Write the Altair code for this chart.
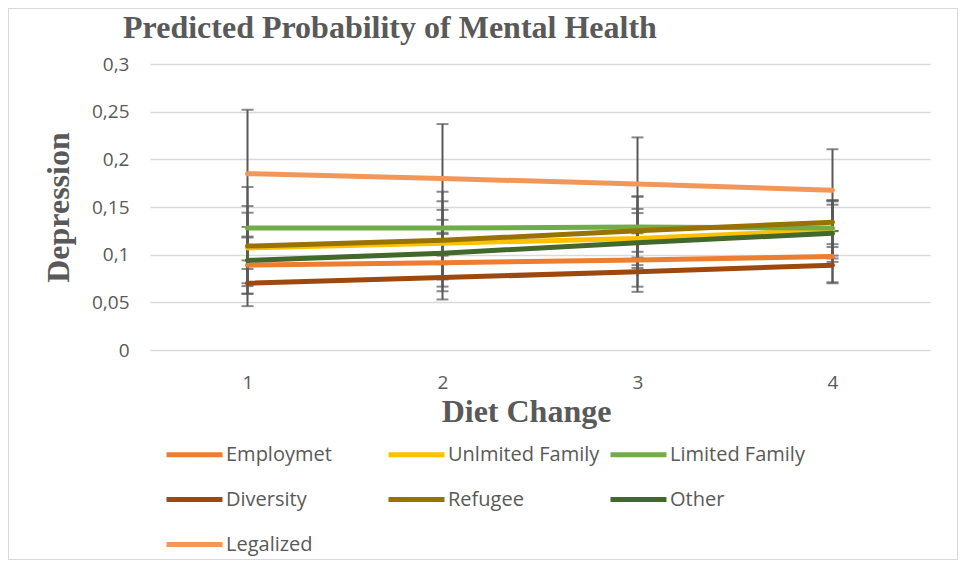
import altair as alt
import pandas as pd

# ---- data ----
diet_change = [1, 2, 3, 4]
series_names = ["Employmet", "Unlmited Family", "Limited Family", "Diversity",
                "Refugee", "Other", "Legalized"]
series_colors = ["#ED7D31", "#FFC000", "#70AD47", "#9E480E",
                 "#997300", "#43682B", "#F1975A"]

employmet = [0.089, 0.0916, 0.0944, 0.098]
unlimited_family = [0.107, 0.112, 0.117, 0.126]
limited_family = [0.128, 0.128, 0.129, 0.128]
diversity = [0.070, 0.076, 0.082, 0.089]
refugee = [0.109, 0.115, 0.125, 0.134]
other = [0.094, 0.1015, 0.1126, 0.1224]
legalized = [0.185, 0.180, 0.174, 0.1676]

err_employmet = [0.030, 0.030, 0.028, 0.027]
err_unlimited_family = [0.037, 0.035, 0.031, 0.030]
err_limited_family = [0.043, 0.038, 0.032, 0.029]
err_diversity = [0.024, 0.023, 0.021, 0.019]
err_refugee = [0.042, 0.041, 0.036, 0.023]
err_other = [0.035, 0.035, 0.031, 0.030]
err_legalized = [0.067, 0.057, 0.049, 0.043]

y_ticks = [0, 0.05, 0.1, 0.15, 0.2, 0.25, 0.3]

values = [employmet, unlimited_family, limited_family, diversity, refugee, other, legalized]
errors = [err_employmet, err_unlimited_family, err_limited_family, err_diversity,
          err_refugee, err_other, err_legalized]

rows = []
for name, vals, errs in zip(series_names, values, errors):
    for x, v, e in zip(diet_change, vals, errs):
        rows.append({"series": name, "x": x, "y": v, "lo": v - e, "hi": v + e})
df = pd.DataFrame(rows)

GRAY = "#595959"
SERIF = "Liberation Serif"
SANS = "Open Sans"

x_enc = alt.X("x:O", scale=alt.Scale(type="point", padding=0.5),
              axis=alt.Axis(title="Diet Change", labelAngle=0, ticks=False, tickSize=0,
                            domain=False, grid=False, labelPadding=32,
                            labelBaseline="middle", labelFontSize=19, labelFont=SANS,
                            labelColor=GRAY, titleFont=SERIF, titleFontSize=32,
                            titleFontWeight="bold", titleColor=GRAY,
                            titleX=376, titleY=61, titleAlign="center",
                            titleBaseline="middle"))
y_scale = alt.Scale(domain=[0, 0.3], nice=False)
y_axis = alt.Axis(title="Depression", values=y_ticks, format="~g",
                  labelExpr="replace(datum.label, '.', ',')",
                  ticks=False, tickSize=0, domain=False, grid=True,
                  gridColor="#D9D9D9", gridWidth=1.3, labelPadding=21,
                  labelFontSize=19, labelFont=SANS, labelColor=GRAY,
                  titleFont=SERIF, titleFontSize=32, titleFontWeight="bold",
                  titleColor=GRAY, titleAngle=270, titleX=-92, titleY=143,
                  titleAlign="center", titleBaseline="middle")

base = alt.Chart(df)

err_rule = base.mark_rule(color=GRAY, strokeWidth=2).encode(
    x=x_enc, y=alt.Y("lo:Q", scale=y_scale, axis=y_axis), y2="hi:Q")
cap_lo = base.mark_tick(color=GRAY, thickness=2, size=12, orient="horizontal").encode(
    x="x:O", y="lo:Q")
cap_hi = base.mark_tick(color=GRAY, thickness=2, size=12, orient="horizontal").encode(
    x="x:O", y="hi:Q")

color_enc = alt.Color("series:N",
                      scale=alt.Scale(domain=series_names, range=series_colors),
                      sort=series_names,
                      legend=alt.Legend(title=None, orient="none", legendX=14, legendY=360,
                                        direction="horizontal",
                                        columns=3, gridAlign="all", columnPadding=0,
                                        rowPadding=4, symbolType="stroke",
                                        symbolStrokeWidth=5, symbolSize=3136,
                                        labelOffset=1, labelFont=SANS, labelFontSize=20,
                                        labelColor=GRAY, padding=0, labelLimit=300))

line_layers = []
for name in series_names:
    line_layers.append(
        base.transform_filter(alt.datum.series == name)
        .mark_line(strokeWidth=5, strokeCap="round", strokeJoin="round")
        .encode(x="x:O", y="y:Q", color=color_enc)
    )

border = base.mark_rect(fill=None, stroke="#D9D9D9", strokeWidth=1).encode(
    x=alt.value(-141.5), x2=alt.value(807.5), y=alt.value(-55.5), y2=alt.value(495.5))

chart = alt.layer(err_rule, cap_lo, cap_hi, *line_layers, border).properties(
    width=780, height=286,
    padding={"left": 142, "top": 56, "right": 28, "bottom": 210},
    autosize=alt.AutoSizeParams(type="none"),
    title=alt.TitleParams("Predicted Probability of Mental Health", anchor="start",
                          frame="group", dx=-27, dy=37, offset=0, font=SERIF, fontSize=32,
                          fontWeight="bold", color=GRAY),
).configure_view(stroke=None)

chart.save("out.html", embed_options={"renderer": "svg", "actions": False})
